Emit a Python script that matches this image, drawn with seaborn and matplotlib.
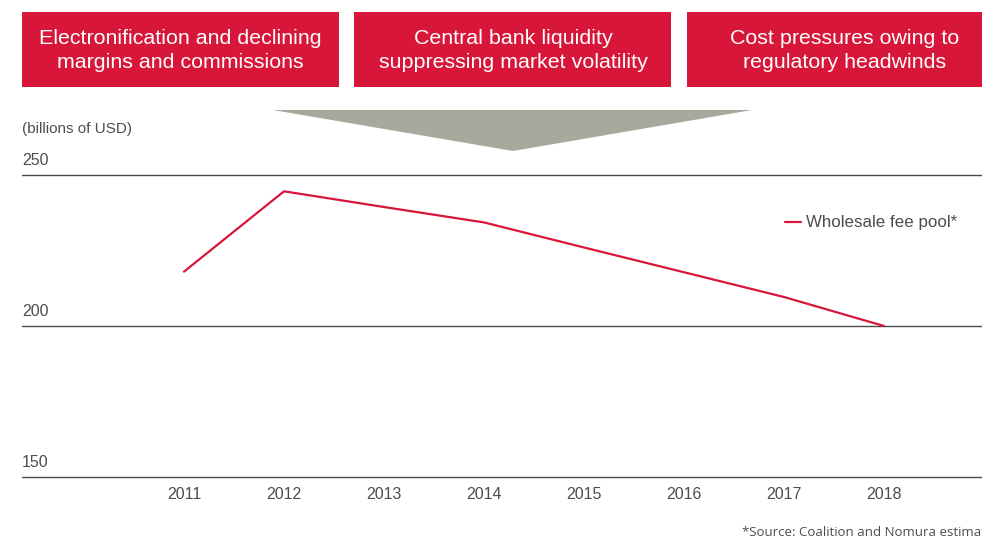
import matplotlib
matplotlib.use("Agg")
import matplotlib.pyplot as plt
import matplotlib.transforms as mtransforms
from matplotlib.patches import Rectangle, Polygon
import seaborn as sns
import pandas as pd

years = [2011, 2012, 2013, 2014, 2015, 2016, 2017, 2018]
fee_pool = [218.0, 244.6, 239.4, 234.3, 226.0, 217.8, 209.6, 200.0]
y_ticks = [150, 200, 250]
series_label = "Wholesale fee pool*"
unit_label = "(billions of USD)"
box_texts = [
    "Electronification and declining\nmargins and commissions",
    "Central bank liquidity\nsuppressing market volatility",
    "Cost pressures owing to\nregulatory headwinds",
]
source_text = "*Source: Coalition and Nomura estimates"

RED = "#D7163A"
GRID = "#4a4a4a"
TXT = "#4d4d4d"

sns.set_theme(style="white")
plt.rcParams["font.family"] = ["Liberation Sans", "DejaVu Sans"]

W, H = 982, 540
fig = plt.figure(figsize=(W / 100, H / 100), dpi=100)

def fx(px):
    return px / W

def fy(py):
    return 1 - py / H

# axes: x from 22 to 982 px; y 150 at 477px, 250 at 175px
ax = fig.add_axes([fx(22), fy(477), fx(960), (477 - 175) / H])
df = pd.DataFrame({"year": years, "value": fee_pool})
sns.lineplot(data=df, x="year", y="value", color=RED, linewidth=1.6, ax=ax,
             label=series_label, legend=False)
ax.set_xlim(2011 - 1.62, 2018 + 0.98)
ax.set_ylim(150, 250)
for s in ax.spines.values():
    s.set_visible(False)
for v in y_ticks:
    ax.axhline(v, color=GRID, linewidth=1.0, clip_on=False, zorder=1)
ax.set_yticks([])
ax.set_xticks(years)
ax.set_xticklabels([str(y) for y in years], fontsize=11.5, color=TXT)
ax.tick_params(axis="x", length=0, pad=7)
ax.set_xlabel("")
ax.set_ylabel("")

trans = mtransforms.blended_transform_factory(ax.transAxes, ax.transData)
for v in y_ticks:
    ax.text(0, v + 3.4, str(v), transform=trans, ha="left", va="baseline",
            fontsize=11.5, color=TXT)

fig.text(fx(22), fy(129), unit_label, ha="left", va="center", fontsize=11, color=TXT)

leg = ax.legend(loc="center left", bbox_to_anchor=(fx(770), fy(223)),
                bbox_transform=fig.transFigure, frameon=False,
                handlelength=0.9, handletextpad=0.35, fontsize=12.2)
for t in leg.get_texts():
    t.set_color(TXT)

# red boxes
boxes = [(22, 339), (354, 671), (687, 982)]
centers = [180, 513, 845]
for (x0, x1), cx, txt in zip(boxes, centers, box_texts):
    fig.patches.append(Rectangle((fx(x0), fy(87)), fx(x1 - x0), (87 - 12) / H,
                                 transform=fig.transFigure, facecolor=RED,
                                 edgecolor="none"))
    fig.text(fx(cx), fy(50.5), txt, ha="center", va="center", fontsize=15.4,
             color="white", linespacing=1.38)

# gray arrow triangle
fig.patches.append(Polygon([(fx(273), fy(110)), (fx(752), fy(110)), (fx(513), fy(151))],
                           closed=True, transform=fig.transFigure,
                           facecolor="#A8A99C", edgecolor="none"))

fig.text(fx(742), fy(533), source_text, ha="left", va="center",
         fontsize=9.5, color=TXT, family=["Open Sans", "DejaVu Sans"])

fig.savefig("out.png", dpi=100)
